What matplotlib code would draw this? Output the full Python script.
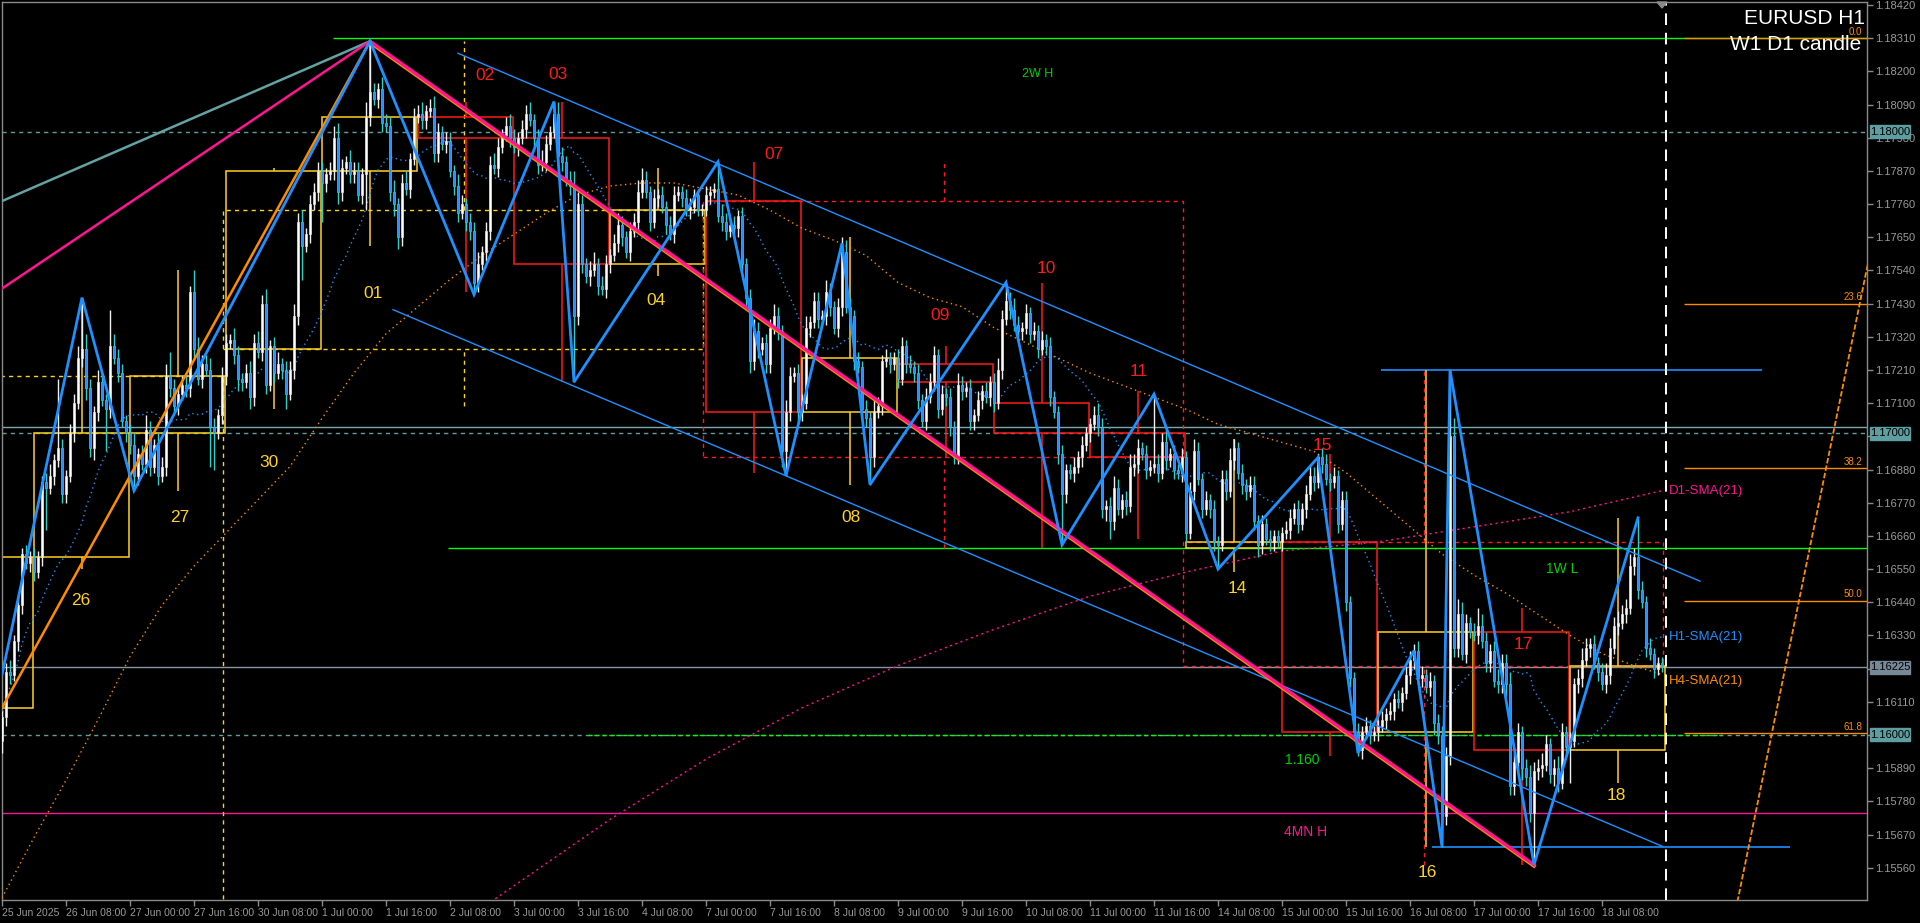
import matplotlib
matplotlib.use("Agg")
import matplotlib.pyplot as plt
import matplotlib.transforms as mtransforms
from matplotlib.patches import Rectangle, Polygon
import numpy as np
import pandas as pd

# ======================= DATA =======================
# EURUSD H1 closes in pips (1606 -> 1.1606); bar 0 = 25 Jun 2025 16:00
first_open_pips = 1598
closes_pips = [
    1606, 1621, 1620, 1631, 1643, 1660, 1657, 1659,  # 25 Jun
    1654, 1659, 1684, 1682, 1686, 1691, 1695, 1680, 1686, 1700, 1710, 1725, 1728, 1715, 1695, 1707, 1717, 1711, 1708, 1729, 1725, 1720, 1704, 1700,  # 26 Jun
    1696, 1686, 1693, 1690, 1701, 1689, 1696, 1686, 1689, 1719, 1715, 1709, 1713, 1716, 1715, 1747, 1728, 1718, 1723, 1721, 1702, 1700, 1706, 1719,  # 27 Jun
    1730, 1731, 1726, 1718, 1717, 1720, 1712, 1730, 1727, 1743, 1716, 1729, 1720, 1723, 1721, 1713, 1721, 1739, 1770, 1762, 1766, 1776, 1780, 1787,  # 30 Jun
    1783, 1786, 1787, 1798, 1780, 1788, 1790, 1786, 1787, 1779, 1786, 1805, 1813, 1811, 1814, 1803, 1802, 1780, 1776, 1765, 1783, 1781, 1791, 1805,  # 1 Jul
    1806, 1804, 1807, 1808, 1793, 1800, 1796, 1797, 1787, 1782, 1773, 1776, 1770, 1767, 1750, 1756, 1760, 1767, 1789, 1788, 1795, 1799, 1802, 1798,  # 2 Jul
    1795, 1798, 1801, 1806, 1804, 1798, 1789, 1790, 1796, 1800, 1806, 1792, 1790, 1784, 1782, 1739, 1776, 1756, 1752, 1754, 1756, 1749, 1748, 1756,  # 3 Jul
    1759, 1763, 1769, 1765, 1760, 1767, 1770, 1780, 1784, 1780, 1770, 1778, 1779, 1775, 1769, 1766, 1779, 1780, 1778, 1774, 1775, 1779, 1774, 1774,  # 4 Jul
    1779, 1780, 1781, 1772, 1770, 1767, 1769, 1768, 1772, 1756, 1745, 1724, 1734, 1728, 1730, 1723, 1735, 1739, 1734, 1694, 1707, 1719, 1720, 1707,  # 7 Jul
    1710, 1735, 1737, 1744, 1738, 1739, 1747, 1742, 1735, 1742, 1760, 1742, 1739, 1724, 1722, 1708, 1705, 1692, 1707, 1709, 1724, 1725, 1723, 1725,  # 8 Jul
    1718, 1729, 1723, 1722, 1720, 1711, 1704, 1712, 1717, 1726, 1708, 1713, 1712, 1702, 1692, 1716, 1714, 1715, 1704, 1706, 1711, 1714, 1712, 1717,  # 9 Jul
    1710, 1721, 1738, 1744, 1741, 1736, 1734, 1735, 1740, 1733, 1734, 1728, 1731, 1729, 1712, 1707, 1693, 1680, 1688, 1687, 1689, 1692, 1696, 1700,  # 10 Jul
    1703, 1706, 1702, 1675, 1676, 1671, 1682, 1675, 1678, 1676, 1689, 1690, 1695, 1693, 1688, 1689, 1690, 1687, 1697, 1691, 1693, 1688, 1687, 1692,  # 11 Jul
    1667, 1681, 1694, 1685, 1675, 1678, 1675, 1664, 1663, 1685, 1681, 1691, 1695, 1687, 1683, 1681, 1683, 1671, 1663, 1670, 1665, 1664, 1666, 1664,  # 14 Jul
    1667, 1668, 1672, 1675, 1670, 1675, 1680, 1686, 1684, 1692, 1690, 1685, 1684, 1686, 1670, 1678, 1644, 1619, 1601, 1595, 1601, 1603, 1600, 1601,  # 15 Jul
    1603, 1605, 1607, 1608, 1612, 1611, 1614, 1620, 1625, 1628, 1619, 1620, 1616, 1618, 1604, 1600, 1573, 1593, 1699, 1629, 1640, 1627, 1637, 1634,  # 16 Jul
    1633, 1636, 1631, 1624, 1628, 1618, 1617, 1624, 1617, 1583, 1591, 1601, 1589, 1586, 1574, 1588, 1589, 1590, 1597, 1587, 1589, 1584, 1601, 1596,  # 17 Jul
    1598, 1617, 1619, 1625, 1629, 1630, 1624, 1621, 1617, 1620, 1629, 1636, 1637, 1640, 1642, 1656, 1659, 1648, 1644, 1629, 1627, 1622, 1624, 1623,  # 18 Jul
]
upper_wick_pips = [
    2, 3, 4, 2, 3, 2, 3, 2,
    3, 2, 2, 3, 4, 2, 23, 3, 2, 3, 3, 4, 17, 5, 3, 2, 4, 3, 2, 12, 4, 3, 3, 2,
    3, 4, 2, 3, 5, 3, 2, 4, 3, 4, 8, 3, 2, 3, 4, 2, 7, 4, 3, 3, 4, 3, 2, 3,
    3, 2, 4, 3, 2, 3, 4, 3, 4, 3, 5, 2, 3, 4, 2, 3, 3, 4, 3, 4, 2, 3, 3, 3,
    3, 2, 3, 4, 5, 3, 2, 4, 3, 3, 2, 5, 17, 3, 2, 4, 3, 3, 4, 2, 3, 4, 2, 3,
    3, 4, 2, 3, 4, 3, 2, 3, 3, 2, 4, 3, 2, 3, 3, 4, 2, 3, 3, 4, 3, 2, 3, 4,
    3, 2, 3, 3, 4, 2, 3, 4, 3, 2, 4, 4, 3, 2, 3, 5, 4, 3, 2, 3, 4, 2, 3, 3,
    2, 3, 4, 3, 2, 3, 3, 4, 4, 3, 2, 3, 2, 3, 2, 3, 3, 2, 2, 3, 3, 2, 2, 2,
    3, 2, 2, 9, 4, 3, 2, 3, 2, 3, 2, 3, 4, 3, 2, 3, 3, 4, 3, 2, 4, 3, 2, 3,
    3, 4, 2, 3, 3, 2, 4, 3, 2, 3, 5, 4, 3, 2, 3, 2, 3, 2, 4, 3, 2, 3, 2, 2,
    3, 3, 2, 3, 2, 3, 2, 3, 3, 3, 2, 3, 2, 3, 2, 4, 3, 2, 3, 2, 3, 2, 3, 2,
    3, 4, 3, 6, 3, 4, 3, 2, 3, 2, 3, 2, 3, 2, 3, 2, 2, 3, 2, 2, 3, 2, 3, 2,
    2, 3, 4, 3, 2, 3, 4, 3, 2, 3, 4, 3, 3, 2, 3, 2, 23, 3, 3, 4, 2, 3, 2, 3,
    2, 3, 4, 3, 2, 3, 2, 3, 2, 3, 3, 4, 3, 2, 3, 2, 3, 3, 2, 3, 2, 3, 2, 2,
    2, 3, 3, 2, 3, 2, 3, 4, 3, 1, 3, 3, 2, 3, 2, 3, 3, 2, 2, 3, 2, 3, 2, 2,
    2, 3, 2, 3, 2, 3, 2, 3, 3, 2, 3, 3, 2, 3, 2, 3, 3, 3, 22, 6, 5, 4, 3, 2,
    3, 6, 4, 3, 2, 3, 4, 3, 3, 4, 3, 3, 2, 3, 4, 3, 3, 4, 3, 2, 3, 4, 3, 2,
    3, 2, 3, 4, 3, 2, 3, 2, 3, 4, 3, 3, 4, 3, 3, 4, 3, 13, 3, 2, 3, 2, 2, 2,
]
lower_wick_pips = [
    4, 3, 3, 2, 3, 3, 2, 3,
    3, 2, 3, 14, 2, 3, 2, 3, 3, 2, 3, 2, 3, 4, 3, 4, 3, 2, 14, 3, 2, 3, 2, 3,
    3, 5, 3, 2, 3, 3, 2, 3, 2, 3, 3, 2, 3, 2, 3, 3, 3, 2, 3, 2, 13, 12, 2, 3,
    3, 2, 3, 4, 3, 2, 4, 3, 2, 3, 3, 2, 3, 2, 3, 5, 2, 3, 3, 11, 2, 3, 2, 3,
    13, 3, 2, 3, 4, 3, 2, 3, 3, 2, 3, 12, 3, 2, 3, 3, 2, 3, 4, 4, 3, 2, 3, 2,
    2, 3, 3, 2, 3, 3, 2, 3, 2, 3, 3, 2, 3, 3, 4, 3, 2, 3, 3, 2, 3, 2, 2, 3,
    2, 3, 2, 3, 2, 3, 3, 2, 3, 2, 2, 3, 3, 2, 3, 22, 3, 3, 2, 3, 2, 3, 2, 3,
    3, 2, 3, 3, 2, 3, 2, 3, 2, 2, 3, 2, 3, 2, 3, 2, 3, 2, 3, 2, 3, 2, 2, 2,
    2, 3, 2, 2, 3, 3, 2, 3, 3, 2, 3, 4, 3, 3, 2, 3, 3, 2, 3, 5, 8, 3, 2, 3,
    3, 2, 3, 2, 3, 2, 3, 3, 2, 3, 3, 2, 3, 3, 2, 3, 3, 9, 3, 2, 3, 2, 3, 2,
    3, 2, 3, 2, 3, 3, 2, 3, 2, 3, 3, 2, 3, 3, 2, 2, 3, 2, 3, 3, 2, 3, 2, 3,
    3, 2, 3, 2, 3, 2, 3, 3, 2, 3, 2, 3, 2, 3, 3, 2, 3, 17, 3, 2, 3, 2, 3, 2,
    3, 2, 3, 3, 4, 6, 3, 2, 3, 3, 2, 3, 3, 2, 3, 2, 2, 3, 2, 3, 2, 3, 2, 3,
    3, 2, 3, 2, 3, 2, 3, 3, 8, 2, 3, 2, 3, 2, 3, 3, 2, 3, 4, 3, 2, 3, 3, 2,
    3, 2, 3, 2, 3, 2, 3, 2, 3, 2, 3, 2, 3, 2, 3, 2, 3, 3, 3, 2, 3, 2, 3, 2,
    3, 2, 3, 2, 3, 2, 3, 2, 3, 3, 2, 3, 2, 3, 4, 3, 10, 3, 3, 3, 3, 2, 3, 2,
    2, 3, 2, 3, 3, 2, 3, 3, 4, 3, 3, 3, 4, 3, 3, 17, 3, 3, 2, 3, 4, 3, 2, 3,
    12, 2, 3, 3, 2, 3, 2, 3, 2, 3, 3, 2, 3, 2, 3, 2, 3, 3, 2, 3, 2, 3, 2, 2,
]

# D1 candles (drawn as boxes)
day_start_bar = [0, 8, 32, 56, 80, 104, 128, 152, 176, 200, 224, 248, 272, 296, 320, 344, 368, 392]
day_bar_count = [8] + [24] * 17
day_open  = [1.1609, 1.1659, 1.1700, 1.1728, 1.1787, 1.1805, 1.1798, 1.1756, 1.1777, 1.1707, 1.1723, 1.1710, 1.1700, 1.1662, 1.1664, 1.1601, 1.1634, 1.1595]
day_close = [1.1659, 1.1700, 1.1719, 1.1787, 1.1805, 1.1798, 1.1756, 1.1774, 1.1707, 1.1725, 1.1717, 1.1700, 1.1692, 1.1664, 1.1601, 1.1634, 1.1595, 1.1623]
day_high  = [1.1659, 1.1745, 1.1754, 1.1788, 1.1830, 1.1810, 1.1810, 1.1788, 1.1790, 1.1765, 1.1729, 1.1750, 1.1714, 1.1698, 1.1693, 1.1721, 1.1642, 1.1672]
day_low   = [1.1609, 1.1655, 1.1681, 1.1708, 1.1762, 1.1747, 1.1717, 1.1752, 1.1687, 1.1683, 1.1692, 1.1662, 1.1665, 1.1654, 1.1593, 1.1563, 1.1557, 1.1584]
day_names = ["25", "26", "27", "30", "01", "02", "03", "04", "07", "08", "09", "10", "11", "14", "15", "16", "17", "18"]

# W1 candles (dashed boxes)
week_start_bar = [-64, 56, 176, 296]
week_open  = [1.1480, 1.1728, 1.1777, 1.1664]
week_close = [1.1719, 1.1774, 1.1692, 1.1623]
week_high  = [1.1754, 1.1830, 1.1790, 1.1721]
week_low   = [1.1450, 1.1709, 1.1662, 1.1557]

# ZigZag pivots (bar, price)
zz_bar   = [0, 20, 33, 92, 118, 138, 143, 179, 196, 210, 217, 251, 265, 288, 304, 329, 339, 353, 360, 362, 383, 409]
zz_price = [1.1620, 1.1745, 1.1681, 1.1830, 1.1746, 1.1810, 1.1717, 1.1790, 1.1686, 1.1763, 1.1683, 1.1750,
            1.1663, 1.1713, 1.1655, 1.1692, 1.1594, 1.1628, 1.1563, 1.1721, 1.1557, 1.1672]

# H4 SMA(21) sampled every 8 H1 bars, D1 SMA(21) at day starts
h4_sma_bar = list(range(0, 416, 8)) + [415]
h4_sma = [1.1546, 1.1566, 1.1585, 1.1605, 1.1626, 1.1643, 1.1656, 1.1667, 1.1678, 1.1689, 1.1705, 1.1720,
          1.1733, 1.1742, 1.1751, 1.1759, 1.1766, 1.1773, 1.1779, 1.1782, 1.1783, 1.1783, 1.1781, 1.1779,
          1.1774, 1.1768, 1.1764, 1.1759, 1.1750, 1.1745, 1.1742, 1.1735, 1.1730, 1.1725, 1.1720, 1.1716,
          1.1712, 1.1708, 1.1703, 1.1700, 1.1697, 1.1694, 1.1687, 1.1678, 1.1669, 1.1660, 1.1653, 1.1647,
          1.1640, 1.1633, 1.1627, 1.1623, 1.1620]
d1_sma_bar = [104, 128, 152, 176, 200, 224, 248, 272, 296, 320, 344, 368, 392, 415]
d1_sma = [1.1528, 1.1550, 1.1572, 1.1592, 1.1609, 1.1623, 1.1635, 1.1646, 1.1654, 1.1661, 1.1664, 1.1669, 1.1674, 1.1681]

# Levels
level_2w_high = 1.1831
level_1w_low = 1.1662
level_4mn_high = 1.1574
round_levels = [1.1800, 1.1700, 1.1600]
price_line = 1.16225
fib_0, fib_100 = 1.1831, 1.14581
fib_levels = [0.0, 23.6, 38.2, 50.0, 61.8]
fib_labels = ["0.0", "23.6", "38.2", "50.0", "61.8"]

# Axis labels
ytick_labels = ["1.18420", "1.18310", "1.18200", "1.18090", "1.17980", "1.17870", "1.17760", "1.17650", "1.17540",
                "1.17430", "1.17320", "1.17210", "1.17100", "1.16990", "1.16880", "1.16770", "1.16660", "1.16550",
                "1.16440", "1.16330", "1.16220", "1.16110", "1.16000", "1.15890", "1.15780", "1.15670", "1.15560"]
xtick_labels = ["25 Jun 2025", "26 Jun 08:00", "27 Jun 00:00", "27 Jun 16:00", "30 Jun 08:00", "1 Jul 00:00",
                "1 Jul 16:00", "2 Jul 08:00", "3 Jul 00:00", "3 Jul 16:00", "4 Jul 08:00", "7 Jul 00:00",
                "7 Jul 16:00", "8 Jul 08:00", "9 Jul 00:00", "9 Jul 16:00", "10 Jul 08:00", "11 Jul 00:00",
                "11 Jul 16:00", "14 Jul 08:00", "15 Jul 00:00", "15 Jul 16:00", "16 Jul 08:00", "17 Jul 00:00",
                "17 Jul 16:00", "18 Jul 08:00"]
# price tags drawn on the axis (they cover the tick labels at about the same price)
tag_prices = [1.18000, 1.17000, 1.16225, 1.16000]
tag_texts = ["1.18000", "1.17000", "1.16225", "1.16000"]

# ======================= LAYOUT / STYLE =======================
W, H = 1920, 923
L, R, T, B = 2, 1867, 2, 900
YMIN, YMAX = 1.154529, 1.184300
XMAX = (R - L) / 4.0

BG = "black"
GRAY = "#8a8a8a"
YEL = "#FFD21F"
RED = "#FF1A1A"
BLUE = "#1E90FF"
PINK = "#FF1493"
ORANGE = "#FF8C00"
TEAL = "#5F9EA0"
LIME = "#00FF00"
FONT = "Liberation Sans"
tag_colors = [TEAL, TEAL, "#778899", TEAL]

plt.rcParams["font.family"] = [FONT, "DejaVu Sans"]

fig = plt.figure(figsize=(W / 100, H / 100), dpi=100)
fig.patch.set_facecolor(BG)
ax = fig.add_axes([L / W, 1 - B / H, (R - L) / W, (B - T) / H])
ax.set_facecolor(BG)
ax.set_xlim(0, XMAX)
ax.set_ylim(YMIN, YMAX)
for s in ax.spines.values():
    s.set_color(GRAY)
    s.set_linewidth(1.0)


def ypix(p):
    return T + (YMAX - p) / (YMAX - YMIN) * (B - T)


# ---- candles data ----
closes = 1 + np.array(closes_pips) / 1e4
opens = np.concatenate([[1 + first_open_pips / 1e4], closes[:-1]])
highs = np.maximum(opens, closes) + np.array(upper_wick_pips) / 1e4
lows = np.minimum(opens, closes) - np.array(lower_wick_pips) / 1e4
idx = np.arange(len(closes))
bull = closes >= opens

# ---- horizontal level lines ----
ax.hlines(round_levels, 0, XMAX, colors=TEAL, lw=1.0, linestyles=(0, (3, 3)), zorder=1)
ax.hlines(1.1702, 0, XMAX, colors="#7FA9B0", lw=1.0, zorder=1)
ax.hlines(price_line, 0, XMAX, colors="#8796A6", lw=1.0, zorder=1)
ax.hlines(level_2w_high, 82.75, XMAX, colors=LIME, lw=1.0, zorder=1)
ax.hlines(level_1w_low, 111.5, XMAX, colors=LIME, lw=1.0, zorder=1)
ax.hlines(1.1600, 146.5, 430, colors=LIME, lw=1.0, linestyles=(0, (3, 2)), zorder=1.1)
ax.hlines(level_4mn_high, 0, XMAX, colors=PINK, lw=1.0, zorder=1)
ax.hlines(1.1721, 344.75, 440, colors=BLUE, lw=1.2, zorder=1)
ax.hlines(1.1563, 357.5, 447, colors=BLUE, lw=1.2, zorder=1)

# ---- fibonacci ----
fib_prices = [fib_0 - lv / 100 * (fib_0 - fib_100) for lv in fib_levels]
ax.hlines(fib_prices, 420.5, XMAX, colors=ORANGE, lw=1.0, zorder=1.2)
for fp, fl in zip(fib_prices, fib_labels):
    ax.text(XMAX - 1.2, fp + 0.00004, fl, color=ORANGE, fontsize=7, ha="right", va="bottom", zorder=8)
ax.plot([420.5, 478], [fib_100, fib_0], color=ORANGE, lw=1.3, ls=(0, (3, 1.2)), zorder=1.2)

# ---- W1 boxes (dashed) ----
for ws, wo, wc, wh, wl in zip(week_start_bar, week_open, week_close, week_high, week_low):
    col = YEL if wc >= wo else RED
    x0, x1 = ws - 0.7, ws + 120 - 0.7
    xm = ws + 59.5
    lo, hi = min(wo, wc), max(wo, wc)
    ax.add_patch(Rectangle((x0, lo), x1 - x0, hi - lo, fill=False, ec=col, lw=1.0,
                           ls=(0, (3, 3)), zorder=1.5))
    ax.vlines(xm, hi, wh, colors=col, lw=1.0, linestyles=(0, (3, 3)), zorder=1.5)
    ax.vlines(xm, wl, lo, colors=col, lw=1.0, linestyles=(0, (3, 3)), zorder=1.5)

# ---- D1 boxes (solid) ----
for ds, dn, do, dc, dh, dl in zip(day_start_bar, day_bar_count, day_open, day_close, day_high, day_low):
    col = YEL if dc >= do else RED
    x0, x1 = ds + 0.1, ds + dn - 0.2
    xm = (x0 + x1) / 2
    lo, hi = min(do, dc), max(do, dc)
    ax.add_patch(Rectangle((x0, lo), x1 - x0, hi - lo, fill=False, ec=col, lw=1.1, zorder=2))
    if dh > hi:
        ax.vlines(xm, hi, dh, colors=col, lw=1.1, zorder=2)
    if dl < lo:
        ax.vlines(xm, dl, lo, colors=col, lw=1.1, zorder=2)

# ---- moving averages ----
h1_sma = pd.Series(closes).rolling(21, min_periods=1).mean().values
ax.plot(idx, h1_sma, color=BLUE, lw=1.0, ls=(0, (1, 2.5)), zorder=3)
ax.plot(h4_sma_bar, h4_sma, color=ORANGE, lw=1.0, ls=(0, (1, 2.5)), zorder=3)
ax.plot(d1_sma_bar, d1_sma, color=PINK, lw=1.0, ls=(0, (1.5, 2.5)), zorder=3)

# ---- candles ----
wick_col = np.where(bull, "#F0F0F0", "#2FD0C8")
ax.vlines(idx, lows, highs, colors=list(wick_col), lw=1.0, zorder=4)
body_h = np.maximum(np.abs(closes - opens), 0.000025)
ax.bar(idx[bull], body_h[bull], bottom=np.minimum(opens, closes)[bull], width=0.64,
       color="#FFFFFF", edgecolor="#F0D8D8", linewidth=0.5, zorder=4.5)
ax.bar(idx[~bull], body_h[~bull], bottom=np.minimum(opens, closes)[~bull], width=0.64,
       color=BLUE, edgecolor="#2FD0C8", linewidth=0.5, zorder=4.5)

# ---- trend lines from the left edge to the July top ----
top_bar, top_price = zz_bar[3], zz_price[3]
ax.plot([0, top_bar], [1.1777, top_price], color="#63A3A3", lw=1.8, zorder=5)
ax.plot([0, top_bar], [1.1748, top_price], color=PINK, lw=1.8, zorder=5)
ax.plot([0, top_bar], [1.1609, top_price], color=ORANGE, lw=1.8, zorder=5)

# ---- channel ----
ax.plot([114, 424.5], [1.1826, 1.1651], color=BLUE, lw=1.0, zorder=5)
ax.plot([97.75, 415.25], [1.1741, 1.1563], color=BLUE, lw=1.0, zorder=5)

# ---- main down trend (pink with orange edge) ----
low_bar, low_price = zz_bar[20], zz_price[20]
off = mtransforms.offset_copy(ax.transData, fig=fig, x=0, y=-1.3, units="dots")
ax.plot([top_bar, low_bar], [top_price, low_price], color=ORANGE, lw=2.6, transform=off, zorder=6)
ax.plot([top_bar, low_bar], [top_price, low_price], color=PINK, lw=2.4, zorder=6.1)

# ---- zigzag ----
ax.plot(zz_bar, zz_price, color=BLUE, lw=2.0, zorder=6.5, solid_joinstyle="miter")

# ---- day labels ----
day_label_bar = [19.75, 44.5, 66.75, 92.75, 120.75, 139, 163.5, 193, 212.25, 234.5, 261, 284.25, 308.75, 330, 356.25, 380.25, 403.5]
day_label_price = [1.16447, 1.16722, 1.16904, 1.17462, 1.18185, 1.18188, 1.17439, 1.17923, 1.16722, 1.17392, 1.17548,
                   1.17206, 1.16484, 1.16961, 1.15545, 1.16301, 1.15801]
for k, (xb, yp) in enumerate(zip(day_label_bar, day_label_price)):
    d = k + 1
    col = YEL if day_close[d] >= day_open[d] else RED
    ax.text(xb, yp, day_names[d], color=col, fontsize=12.5, ha="center", va="center", zorder=8)

# ---- other texts ----
ax.text(259, 1.18191, "2W H", color="#00D000", fontsize=9, ha="center", va="center", zorder=8)
ax.text(390, 1.16550, "1W L", color="#00D000", fontsize=10, ha="center", va="center", zorder=8)
ax.text(325, 1.15917, "1.160", color="#00D000", fontsize=10, ha="center", va="center", zorder=8)
ax.text(326, 1.15678, "4MN H", color=PINK, fontsize=10, ha="center", va="center", zorder=8)
ax.text(416.8, d1_sma[-1], "D1-SMA(21)", color=PINK, fontsize=9.5, ha="left", va="center", zorder=8)
ax.text(416.8, h1_sma[-1], "H1-SMA(21)", color=BLUE, fontsize=9.5, ha="left", va="center", zorder=8)
ax.text(416.8, h4_sma[-1] - 0.0002, "H4-SMA(21)", color=ORANGE, fontsize=9.5, ha="left", va="center", zorder=8)

fig.text(1865 / W, 1 - 18 / H, "EURUSD H1", color="white", fontsize=15, ha="right", va="center")
fig.text(1861 / W, 1 - 45 / H, "W1 D1 candle", color="white", fontsize=15, ha="right", va="center")

# ---- current bar separator ----
ax.axvline(416, color="white", lw=1.4, ls=(0, (6, 4)), zorder=7)
fig.patches.append(Polygon([[1657 / W, 1 - 2 / H], [1667 / W, 1 - 2 / H], [1662 / W, 1 - 8 / H]],
                           closed=True, transform=fig.transFigure, color="#8a8a8a", zorder=10))

# ---- axes ticks ----
ytick_prices = [float(s) for s in ytick_labels]
# tick labels that sit (almost) under a price tag are hidden by it
shown_ylabels = ["" if any(abs(tp - yp) < 0.00012 for tp in tag_prices) else s
                 for s, yp in zip(ytick_labels, ytick_prices)]
ax.yaxis.tick_right()
ax.set_yticks(ytick_prices)
ax.set_yticklabels(shown_ylabels)
ax.tick_params(axis="y", colors=GRAY, labelcolor="#9a9a9a", labelsize=8, length=4, width=1,
               direction="out", pad=2)
xtick_bars = list(range(0, 16 * len(xtick_labels), 16))
ax.set_xticks(xtick_bars)
ax.set_xticklabels(xtick_labels, ha="left")
ax.tick_params(axis="x", colors=GRAY, labelcolor="#9a9a9a", labelsize=7.5, length=4, width=1,
               direction="out", pad=1.5)

# ---- price tags on the right axis ----
for p, txt, bg in zip(tag_prices, tag_texts, tag_colors):
    yp = ypix(p)
    fig.patches.append(Rectangle((1870 / W, 1 - (yp + 6.5) / H), 40 / W, 13 / H,
                                 transform=fig.transFigure, color=bg, zorder=10))
    fig.text(1890 / W, 1 - yp / H, txt, color="black", fontsize=8, ha="center", va="center", zorder=11)

fig.savefig("out.png", dpi=100, facecolor=BG)
